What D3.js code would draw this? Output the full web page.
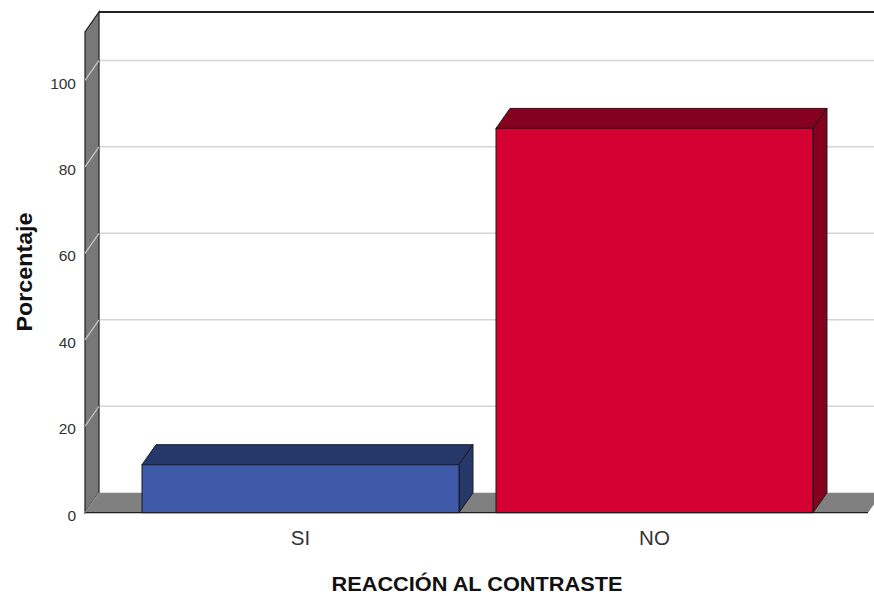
<!DOCTYPE html>
<html>
<head>
<meta charset="utf-8">
<script src="https://cdn.jsdelivr.net/npm/d3@7"></script>
<style>
  html, body { margin: 0; padding: 0; background: #fff; }
  svg { display: block; }
  text { font-family: "Liberation Sans", Arial, sans-serif; }
</style>
</head>
<body>
<svg id="chart" width="874" height="596"></svg>
<script>
// Data
const categories = ["SI", "NO"];
const percentages = [11.1, 88.9];
const yTicks = [0, 20, 40, 60, 80, 100];
const yTitle = "Porcentaje";
const xTitle = "REACCIÓN AL CONTRASTE";

const frontColors = ["#3e5aa8", "#d50032"];
const darkColors = ["#26376a", "#86001f"];

const W = 874, H = 596;
const svg = d3.select("#chart");

// 3D depth offset of the back plane
const DX = 14, DY = -20;

// Front-plane scales
const y = d3.scaleLinear().domain([0, 111.2]).range([512.7, 32]);
const x = d3.scaleBand().domain(categories)
  .range([123.5, 831.5]).paddingInner(0.1045).paddingOuter(0.0523);

const wallX = 85;          // front edge of the left wall
const y0 = y(0), yTop = y.range()[1];

// Back wall grid lines
const grid = svg.append("g");
yTicks.filter(t => t > 0).forEach(t => {
  grid.append("line")
    .attr("x1", wallX + DX).attr("x2", W)
    .attr("y1", y(t) + DY).attr("y2", y(t) + DY)
    .attr("stroke", "#d4d4d4").attr("stroke-width", 1.5);
});

// Top border of the back wall
svg.append("line")
  .attr("x1", wallX + DX).attr("x2", W)
  .attr("y1", yTop + DY).attr("y2", yTop + DY)
  .attr("stroke", "#222").attr("stroke-width", 2);

// Left wall
svg.append("polygon")
  .attr("points", [
    [wallX, y0], [wallX, yTop], [wallX + DX, yTop + DY], [wallX + DX, y0 + DY]
  ].map(p => p.join(",")).join(" "))
  .attr("fill", "#787878").attr("stroke", "#1e1e1e").attr("stroke-width", 1.2);

// Grid lines continued across the wall
yTicks.filter(t => t > 0).forEach(t => {
  svg.append("line")
    .attr("x1", wallX).attr("y1", y(t))
    .attr("x2", wallX + DX).attr("y2", y(t) + DY)
    .attr("stroke", "#c8c8c8").attr("stroke-width", 1.2);
});

// Floor
svg.append("polygon")
  .attr("points", [
    [wallX, y0], [wallX + DX, y0 + DY], [882, y0 + DY], [868, y0]
  ].map(p => p.join(",")).join(" "))
  .attr("fill", "#808080").attr("stroke", "none");
svg.append("line")
  .attr("x1", wallX).attr("x2", 868).attr("y1", y0).attr("y2", y0)
  .attr("stroke", "#1e1e1e").attr("stroke-width", 1.2);
svg.append("line")
  .attr("x1", wallX).attr("y1", y0).attr("x2", wallX + DX).attr("y2", y0 + DY)
  .attr("stroke", "#9a9a9a").attr("stroke-width", 1);

// Y tick labels
svg.append("g").selectAll("text").data(yTicks).join("text")
  .attr("x", wallX - 9).attr("y", d => y(d) + 4)
  .attr("text-anchor", "end").attr("dominant-baseline", "middle")
  .attr("font-size", 15.5).attr("fill", "#333")
  .text(d => d);

// Bars with top and side faces
const bars = svg.append("g").selectAll("g").data(categories).join("g");
bars.each(function (c, i) {
  const g = d3.select(this);
  const x0 = x(c), x1 = x(c) + x.bandwidth();
  const yt = y(percentages[i]);
  const poly = pts => pts.map(p => p.join(",")).join(" ");
  // top face
  g.append("polygon")
    .attr("points", poly([[x0, yt], [x0 + DX, yt + DY], [x1 + DX, yt + DY], [x1, yt]]))
    .attr("fill", darkColors[i]).attr("stroke", "#1a1a1a").attr("stroke-width", 1)
    .attr("stroke-linejoin", "round");
  // side face
  g.append("polygon")
    .attr("points", poly([[x1, yt], [x1 + DX, yt + DY], [x1 + DX, y0 + DY], [x1, y0]]))
    .attr("fill", darkColors[i]).attr("stroke", "#1a1a1a").attr("stroke-width", 1)
    .attr("stroke-linejoin", "round");
  // front face
  g.append("rect")
    .attr("x", x0).attr("y", yt)
    .attr("width", x1 - x0).attr("height", y0 - yt)
    .attr("fill", frontColors[i]).attr("stroke", "#1a1a1a").attr("stroke-width", 1);
});

// X tick labels
svg.append("g").selectAll("text").data(categories).join("text")
  .attr("x", d => x(d) + x.bandwidth() / 2)
  .attr("y", 545)
  .attr("text-anchor", "middle")
  .attr("font-size", 20.5).attr("fill", "#333")
  .text(d => d);

// Axis titles
svg.append("text")
  .attr("x", 477).attr("y", 591)
  .attr("text-anchor", "middle")
  .attr("font-size", 21).attr("font-weight", "bold").attr("fill", "#111")
  .attr("textLength", 291).attr("lengthAdjust", "spacingAndGlyphs")
  .text(xTitle);

svg.append("text")
  .attr("transform", "translate(32,272) rotate(-90)")
  .attr("text-anchor", "middle")
  .attr("font-size", 22).attr("font-weight", "bold").attr("fill", "#111")
  .attr("textLength", 119).attr("lengthAdjust", "spacingAndGlyphs")
  .text(yTitle);
</script>
</body>
</html>
